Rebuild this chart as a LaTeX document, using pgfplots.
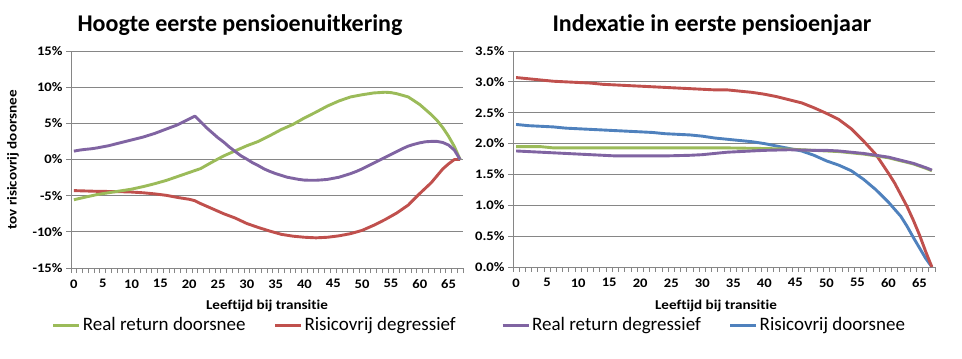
\documentclass[border=0pt]{standalone}
\usepackage{fontspec}
\setmainfont{Carlito}[Ligatures=NoCommon]
\newfontfamily\lblfont[FakeStretch=1.12,Ligatures=NoCommon]{Carlito}
\usepackage{pgfplots}
\pgfplotsset{compat=1.18}
\definecolor{xgreen}{HTML}{9BBB59}
\definecolor{xred}{HTML}{C0504D}
\definecolor{xpurple}{HTML}{8064A2}
\definecolor{xblue}{HTML}{4F81BD}
\definecolor{xgrid}{HTML}{868686}
\pgfplotsset{
  xlstyle/.style={
    scale only axis, axis lines*=left, xmin=-0.5, xmax=67.5, clip=false,
    axis line style={xgrid, line width=0.9pt},
    ymajorgrids, grid style={xgrid, line width=0.9pt},
    xtick={0,5,10,15,20,25,30,35,40,45,50,55,60,65},
    xticklabels={0,5,10,15,20,25,30,35,40,45,50,55,60,65},
    major x tick style={draw=none},
    minor xtick={-0.5,0.5,...,67.5},
    tick align=outside, major tick length=5pt, minor tick length=5pt,
    tick style={xgrid, line width=0.8pt},
    ticklabel style={font=\lblfont\fontsize{13}{13}\selectfont\bfseries},
    xticklabel style={yshift=-3pt},
    every axis plot/.append style={line width=2.9pt, line join=round, no markers},
    legend style={draw=none, fill=none, legend columns=2,
      font=\fontsize{19}{19}\selectfont,
      /tikz/every even column/.append style={column sep=26pt}},
    legend image code/.code={\draw[#1, line width=2.9pt] (0pt,0pt) -- (26pt,0pt);},
  }
}
\begin{document}
\begin{tikzpicture}
\path[use as bounding box] (0,0) rectangle (962pt,359pt);
% ---------------- left chart ----------------
\begin{axis}[xlstyle, at={(71pt,91pt)}, anchor=south west,
  width=392pt, height=217pt, ymin=-15, ymax=15,
  ytick={-15,-10,-5,0,5,10,15},
  yticklabels={-15\%,-10\%,-5\%,0\%,5\%,10\%,15\%},
  legend style={at={(axis description cs:0.469,-0.263)}, anchor=center}]
\addlegendimage{xgreen}\addlegendentry{Real return doorsnee}
\addlegendimage{xred}\addlegendentry{Risicovrij degressief}
% Risicovrij degressief
\addplot[xred, forget plot] table {
0 -4.3
2 -4.35
4 -4.4
6 -4.42
8 -4.45
10 -4.5
12 -4.6
14 -4.75
16 -4.95
18 -5.25
20 -5.5
21 -5.7
22 -6.1
24 -6.8
26 -7.5
28 -8.1
30 -8.85
32 -9.4
34 -9.9
36 -10.35
38 -10.6
40 -10.75
42 -10.83
44 -10.75
46 -10.55
48 -10.25
50 -9.8
52 -9.1
54 -8.3
56 -7.4
58 -6.3
60 -4.7
62 -3.2
64 -1.3
65 -0.6
66 0
67 0
};
% Real return doorsnee
\addplot[xgreen, forget plot] table {
0 -5.56
2 -5.2
4 -4.85
6 -4.6
8 -4.35
10 -4.1
12 -3.75
14 -3.35
16 -2.9
18 -2.35
20 -1.8
22 -1.25
24 -0.35
26 0.5
28 1.2
30 1.9
32 2.5
34 3.3
36 4.15
38 4.85
40 5.75
42 6.55
44 7.4
46 8.1
48 8.65
50 8.95
52 9.2
54 9.3
55 9.25
56 9.1
58 8.65
60 7.6
61 6.9
62 6.2
63 5.4
64 4.4
65 3.2
66 1.8
67 0
};
% Real return degressief
\addplot[xpurple, forget plot] table {
0 1.16
1 1.3
2 1.4
3 1.48
4 1.6
5 1.75
6 1.9
7 2.1
8 2.3
9 2.5
10 2.7
11 2.9
12 3.1
13 3.35
14 3.6
15 3.9
16 4.2
17 4.5
18 4.8
19 5.2
20 5.6
21 6.0
22 5.2
23 4.4
24 3.7
25 3.0
26 2.4
27 1.7
28 1.1
29 0.5
30 0.05
31 -0.45
32 -0.85
33 -1.3
34 -1.65
35 -1.95
36 -2.2
37 -2.45
38 -2.6
39 -2.75
40 -2.85
41 -2.87
42 -2.87
43 -2.82
44 -2.75
45 -2.6
46 -2.45
47 -2.2
48 -1.95
49 -1.65
50 -1.3
51 -0.9
52 -0.5
53 -0.1
54 0.3
55 0.7
56 1.1
57 1.5
58 1.85
59 2.1
60 2.3
61 2.45
62 2.5
63 2.5
64 2.35
65 2.0
66 1.3
67 0
};
\end{axis}
% ---------------- right chart ----------------
\begin{axis}[xlstyle, at={(513pt,92pt)}, anchor=south west,
  width=422pt, height=216pt, ymin=0, ymax=3.5,
  ytick={0,0.5,1,1.5,2,2.5,3,3.5},
  yticklabels={0.0\%,0.5\%,1.0\%,1.5\%,2.0\%,2.5\%,3.0\%,3.5\%},
  legend style={at={(axis description cs:0.453,-0.269)}, anchor=center}]
\addlegendimage{xpurple}\addlegendentry{Real return degressief}
\addlegendimage{xblue}\addlegendentry{Risicovrij doorsnee}
% Risicovrij doorsnee
\addplot[xblue, forget plot] table {
0 2.31
2 2.29
4 2.28
6 2.27
8 2.25
10 2.24
12 2.23
14 2.22
16 2.21
18 2.20
20 2.19
22 2.18
24 2.16
26 2.15
28 2.14
30 2.12
32 2.09
34 2.07
36 2.05
38 2.03
40 2.00
42 1.96
44 1.92
46 1.88
48 1.81
50 1.72
52 1.65
54 1.56
56 1.42
58 1.25
60 1.05
62 0.82
63 0.66
64 0.48
65 0.31
66 0.14
67 0
};
% Risicovrij degressief
\addplot[xred, forget plot] table {
0 3.07
2 3.05
4 3.03
6 3.01
8 3.00
10 2.99
12 2.98
14 2.96
16 2.95
18 2.94
20 2.93
22 2.92
24 2.91
26 2.90
28 2.89
30 2.88
32 2.87
34 2.87
36 2.85
38 2.83
40 2.80
42 2.76
44 2.71
46 2.66
48 2.58
50 2.49
52 2.39
54 2.24
56 2.04
58 1.82
60 1.52
61 1.36
62 1.17
63 0.98
64 0.76
65 0.52
66 0.25
67 0
};
% Real return doorsnee
\addplot[xgreen, forget plot] table {
0 1.95
4 1.95
5 1.94
6 1.93
34 1.93
40 1.92
44 1.91
48 1.89
50 1.88
52 1.87
54 1.85
56 1.83
58 1.80
60 1.77
62 1.72
64 1.67
66 1.60
67 1.56
};
% Real return degressief
\addplot[xpurple, forget plot] table {
0 1.88
2 1.87
4 1.86
6 1.85
8 1.84
10 1.83
12 1.82
14 1.81
16 1.80
20 1.80
24 1.80
28 1.81
30 1.82
32 1.84
34 1.86
36 1.87
38 1.88
40 1.89
44 1.90
48 1.89
50 1.89
52 1.88
54 1.86
56 1.84
58 1.81
60 1.78
62 1.73
64 1.68
66 1.61
67 1.57
};
\end{axis}
% ---------------- titles and axis labels ----------------
\node[font=\fontsize{24}{24}\selectfont\bfseries] at (240pt,334pt) {Hoogte eerste pensioenuitkering};
\node[font=\fontsize{24}{24}\selectfont\bfseries] at (712pt,334pt) {Indexatie in eerste pensioenjaar};
\node[font=\lblfont\fontsize{13.5}{13.5}\selectfont\bfseries] at (267pt,53pt) {Leeftijd bij transitie};
\node[font=\lblfont\fontsize{13.5}{13.5}\selectfont\bfseries] at (716pt,53pt) {Leeftijd bij transitie};
\node[rotate=90, font=\lblfont\fontsize{13.5}{13.5}\selectfont\bfseries] at (13pt,199pt) {tov risicovrij doorsnee};
\end{tikzpicture}
\end{document}
